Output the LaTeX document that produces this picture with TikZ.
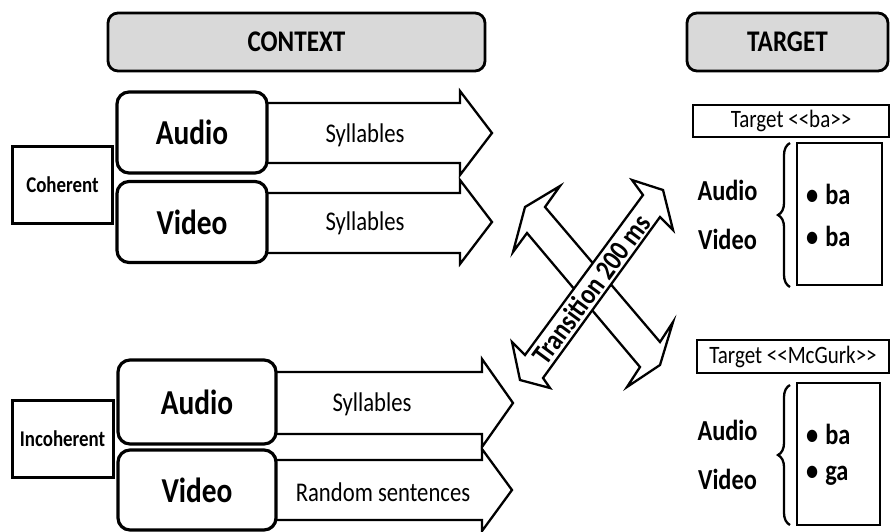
\documentclass[tikz,border=0pt]{standalone}
\usepackage{fontspec}
\setmainfont{Carlito}[FakeStretch=0.84]
\usetikzlibrary{decorations.pathreplacing}
\definecolor{hdrgray}{RGB}{217,217,217}
\begin{document}
\begin{tikzpicture}[x=1pt,y=-1pt,
  hdr/.style={draw, line width=2.8pt, rounded corners=10pt, fill=hdrgray, inner sep=0pt,
    font=\bfseries\fontsize{30}{30}\selectfont},
  modbox/.style={draw, line width=3.2pt, rounded corners=12pt, fill=white, inner sep=0pt,
    minimum width=150pt, minimum height=81pt, font=\bfseries\fontsize{35}{35}\selectfont},
  condbox/.style={draw, line width=3pt, fill=white, inner sep=0pt,
    minimum width=100pt, minimum height=77pt, font=\bfseries\fontsize{22.5}{22.5}\selectfont},
  blockarrow/.style={draw, line width=2.3pt, fill=white, line join=miter},
  arrtext/.style={font=\fontsize{27}{27}\selectfont, inner sep=0pt},
  tgtbox/.style={draw, line width=2.5pt, fill=white, inner sep=0pt,
    font=\fontsize{25}{25}\selectfont},
  listbox/.style={draw, line width=2.5pt, inner sep=0pt},
  sidelabel/.style={font=\bfseries\fontsize{29}{29}\selectfont, inner sep=0pt},
  item/.style={font=\bfseries\fontsize{29}{29}\selectfont, inner sep=0pt, anchor=west},
  bracestyle/.style={draw, line width=2.3pt, decorate, decoration={brace, amplitude=12pt}},
  crossarrow/.style={draw, line width=2.3pt, fill=white, line join=miter}
]
\useasboundingbox (0,0) rectangle (890,531);

% headers
\node[hdr, minimum width=377pt, minimum height=58pt] (ctx) at (296.5,42) {CONTEXT};
\node[hdr, minimum width=201pt, minimum height=58pt] (tgt) at (787.5,42) {TARGET};

% block arrows (upper group)
\draw[blockarrow] (250,103) -- (460,103) -- (460,91) -- (492,133) -- (460,175) -- (460,163) -- (250,163) -- cycle;
\draw[blockarrow] (250,193) -- (460,193) -- (460,180) -- (492,222) -- (460,264) -- (460,253) -- (250,253) -- cycle;
% block arrows (lower group)
\draw[blockarrow] (260,372) -- (482,372) -- (482,359) -- (513,403) -- (482,447) -- (482,434) -- (260,434) -- cycle;
\draw[blockarrow] (260,460) -- (482,460) -- (482,449) -- (512,490) -- (482,531) -- (482,520) -- (260,520) -- cycle;

\node[arrtext] (s1) at (365,135) {Syllables};
\node[arrtext] (s2) at (365,223) {Syllables};
\node[arrtext] (s3) at (372,404) {Syllables};
\node[arrtext] (s4) at (383,492) {Random sentences};

% modality boxes
\node[modbox] (au1) at (192,132.5) {Audio};
\node[modbox] (vi1) at (192,222) {Video};
\node[modbox, minimum width=158pt, minimum height=84pt] (au2) at (197,402) {Audio};
\node[modbox, minimum width=158pt, minimum height=80pt] (vi2) at (197,490) {Video};

% condition boxes
\node[condbox] (coh) at (62.5,184.5) {Coherent};
\node[condbox, minimum width=101pt] (inc) at (62.5,438.5) {Incoherent};

% transition cross
\draw[crossarrow] (545,207) -- (560,186) -- (525,207) -- (513,252) -- (527,233)
  -- (640,367) -- (627,387) -- (660,365) -- (673,322) -- (660,342) -- cycle;
\draw[crossarrow] (525,355) -- (643,195) -- (632,180) -- (663,190) -- (673,230) -- (660,217)
  -- (543,378) -- (550,388) -- (520,380) -- (512,342) -- cycle;
\node[font=\bfseries\fontsize{29}{29}\selectfont, inner sep=0pt, rotate=53.6] (trans) at (591,289) {Transition 200 ms};

% target <<ba>>
\node[tgtbox, minimum width=196pt, minimum height=32pt] (t1) at (791,121) {Target <{}<ba>{}>};
\node[listbox, minimum width=85pt, minimum height=142pt] (l1) at (839.5,214) {};
\draw[bracestyle] (790,287) -- (790,143);
\node[sidelabel] (a1) at (727.5,190) {Audio};
\node[sidelabel] (v1) at (727.5,239) {Video};
\node[item] (i1) at (806,194) {•\hspace{7pt}ba};
\node[item] (i2) at (806,236) {•\hspace{7pt}ba};

% target <<McGurk>>
\node[tgtbox, minimum width=192pt, minimum height=33pt] (t2) at (793,356.5) {Target <{}<McGurk>{}>};
\node[listbox, minimum width=83pt, minimum height=142pt] (l2) at (838.5,454) {};
\draw[bracestyle] (790,525) -- (790,385);
\node[sidelabel] (a2) at (727.5,430) {Audio};
\node[sidelabel] (v2) at (727.5,479) {Video};
\node[item] (i3) at (806,434) {•\hspace{7pt}ba};
\node[item] (i4) at (806,476) {•\hspace{7pt}ga};
\end{tikzpicture}
\end{document}
